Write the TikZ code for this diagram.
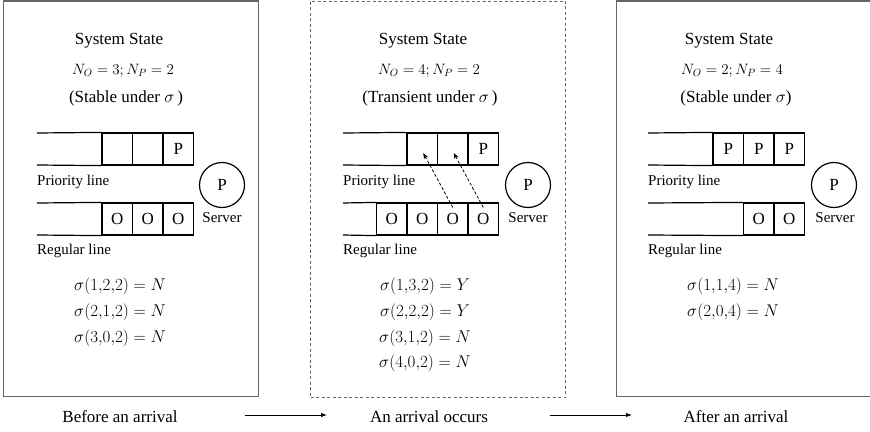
\RequirePackage{fix-cm}
\documentclass[tikz,border=0pt]{standalone}
\usepackage{fontspec}
\setmainfont{Liberation Serif}
\usetikzlibrary{arrows.meta,calc}
\definecolor{boxgray}{HTML}{666666}
\begin{document}
\begin{tikzpicture}[x=1pt,y=-1pt,
  panel/.style={draw=boxgray,line width=1pt,anchor=north west,inner sep=0pt},
  dpanel/.style={panel,dash pattern=on 3pt off 2.5pt},
  cell/.style={draw,line width=1.2pt,minimum width=30.5pt,minimum height=32pt,inner sep=0pt,font=\rmfamily\fontsize{17}{20}\selectfont},
  rail/.style={line width=1.2pt},
  lbl/.style={font=\rmfamily\fontsize{17}{20}\selectfont,anchor=base,inner sep=0pt},
  sml/.style={font=\rmfamily\fontsize{15}{18}\selectfont,anchor=base,inner sep=0pt},
  lname/.style={font=\rmfamily\fontsize{15}{18}\selectfont,anchor=base west,inner sep=0pt},
  srv/.style={draw,circle,line width=1.2pt,minimum size=45pt,inner sep=0pt,font=\rmfamily\fontsize{17}{20}\selectfont},
  arr/.style={line width=1pt,-{Latex[length=6pt,width=4.5pt]}},
  darr/.style={line width=0.8pt,dash pattern=on 3pt off 2pt,-{Stealth[length=6pt,width=4.5pt]}}
]
\useasboundingbox (0,0) rectangle (870,431);

% ---------- panels ----------
\node[panel,minimum width=255pt,minimum height=395.5pt] (P1) at (3,0.5) {};
\node[dpanel,minimum width=255pt,minimum height=396.5pt] (P2) at (310,0.5) {};
\node[panel,minimum width=256pt,minimum height=395.5pt] (P3) at (616,0.5) {};

% ---------- left panel ----------
\node[lbl] (L-title) at (119,44) {System State};
\node[sml] (L-n) at (123,74) {$N_O = 3; N_P = 2$};
\node[lbl] (L-st) at (126,102) {(Stable under $\sigma$\,)};
\node[cell] (L-p1) at (117.25,149) {};
\node[cell] (L-p2) at (147.75,149) {};
\node[cell] (L-p3) at (178.25,149) {P};
\coordinate (L-pt) at (37,133);
\coordinate (L-pb) at (37,165);
\draw[rail] (L-pt) -- (L-p1.north west);
\draw[rail] (L-pb) -- (L-p1.south west);
\node[lname] (L-pl) at (37,185) {Priority line};
\node[cell] (L-r1) at (117.25,219) {O};
\node[cell] (L-r2) at (147.75,219) {O};
\node[cell] (L-r3) at (178.25,219) {O};
\coordinate (L-rt) at (37,203);
\coordinate (L-rb) at (37,235);
\draw[rail] (L-rt) -- (L-r1.north west);
\draw[rail] (L-rb) -- (L-r1.south west);
\node[lname] (L-rl) at (37,254) {Regular line};
\node[srv] (L-srv) at (222,185) {P};
\node[sml] (L-sv) at (222,222) {Server};
\node[lbl] (L-s1) at (120,290) {$\sigma(1{,}2{,}2) = N$};
\node[lbl] (L-s2) at (120,316) {$\sigma(2{,}1{,}2) = N$};
\node[lbl] (L-s3) at (120,342) {$\sigma(3{,}0{,}2) = N$};

% ---------- centre panel ----------
\node[lbl] (C-title) at (423,44) {System State};
\node[sml] (C-n) at (429,74) {$N_O = 4; N_P = 2$};
\node[lbl] (C-st) at (430,102) {(Transient under $\sigma$\,)};
\node[cell] (C-p1) at (422.25,149) {};
\node[cell] (C-p2) at (452.75,149) {};
\node[cell] (C-p3) at (483.25,149) {P};
\coordinate (C-pt) at (343,133);
\coordinate (C-pb) at (343,165);
\draw[rail] (C-pt) -- (C-p1.north west);
\draw[rail] (C-pb) -- (C-p1.south west);
\node[lname] (C-pl) at (343,185) {Priority line};
\node[cell] (C-r0) at (391.75,219) {O};
\node[cell] (C-r1) at (422.25,219) {O};
\node[cell] (C-r2) at (452.75,219) {O};
\node[cell] (C-r3) at (483.25,219) {O};
\coordinate (C-rt) at (343,203);
\coordinate (C-rb) at (343,235);
\draw[rail] (C-rt) -- (C-r0.north west);
\draw[rail] (C-rb) -- (C-r0.south west);
\node[lname] (C-rl) at (343,254) {Regular line};
\node[srv] (C-srv) at (528,185) {P};
\node[sml] (C-sv) at (528,222) {Server};
\draw[darr] ($(C-r2.north)+(0,5)$) -- ($(C-p1.center)+(1,4)$);
\draw[darr] ($(C-r3.north)+(0,5)$) -- ($(C-p2.center)+(1,4)$);
\node[lbl] (C-s1) at (425,290) {$\sigma(1{,}3{,}2) = Y$};
\node[lbl] (C-s2) at (425,316) {$\sigma(2{,}2{,}2) = Y$};
\node[lbl] (C-s3) at (425,342) {$\sigma(3{,}1{,}2) = N$};
\node[lbl] (C-s4) at (425,367) {$\sigma(4{,}0{,}2) = N$};

% ---------- right panel ----------
\node[lbl] (R-title) at (729,44) {System State};
\node[sml] (R-n) at (732,74) {$N_O = 2; N_P = 4$};
\node[lbl] (R-st) at (736,102) {(Stable under $\sigma$)};
\node[cell] (R-p1) at (728.25,149) {P};
\node[cell] (R-p2) at (758.75,149) {P};
\node[cell] (R-p3) at (789.25,149) {P};
\coordinate (R-pt) at (648,133);
\coordinate (R-pb) at (648,165);
\draw[rail] (R-pt) -- (R-p1.north west);
\draw[rail] (R-pb) -- (R-p1.south west);
\node[lname] (R-pl) at (648,185) {Priority line};
\node[cell] (R-r2) at (758.75,219) {O};
\node[cell] (R-r3) at (789.25,219) {O};
\coordinate (R-rt) at (648,203);
\coordinate (R-rb) at (648,235);
\draw[rail] (R-rt) -- (R-r2.north west);
\draw[rail] (R-rb) -- (R-r2.south west);
\node[lname] (R-rl) at (648,254) {Regular line};
\node[srv] (R-srv) at (834,185) {P};
\node[sml] (R-sv) at (835,222) {Server};
\node[lbl] (R-s1) at (733,290) {$\sigma(1{,}1{,}4) = N$};
\node[lbl] (R-s2) at (733,316) {$\sigma(2{,}0{,}4) = N$};

% ---------- bottom captions ----------
\node[lbl] (B1) at (120,422) {Before an arrival};
\node[lbl] (B2) at (429,422) {An arrival occurs};
\node[lbl] (B3) at (736,422) {After an arrival};
\coordinate (A1s) at (245,415);
\coordinate (A1e) at (327,415);
\coordinate (A2s) at (550,415);
\coordinate (A2e) at (632,415);
\draw[arr] (A1s) -- (A1e);
\draw[arr] (A2s) -- (A2e);
\end{tikzpicture}
\end{document}
